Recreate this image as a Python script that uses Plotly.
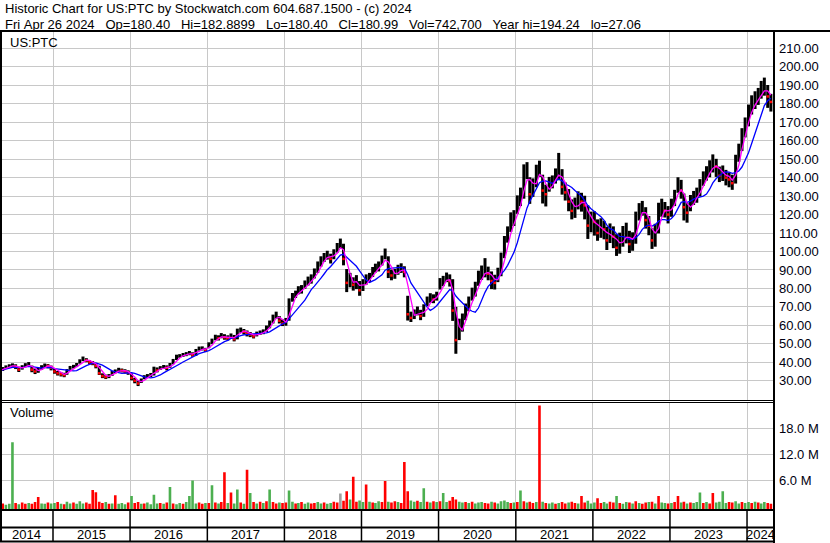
import pandas as pd
import plotly.graph_objects as go

# half-monthly readings (8th and 23rd of each month), 2014-04-23 .. 2024-04-23
close = [
    35.5, 36.5, 37.5, 38.0, 38.5, 37.5, 36.0, 37.5, 38.5, 39.0, 36.0, 35.0, 35.5, 37.5, 38.5, 38.0, 37.0,
    35.0, 34.0, 33.5, 33.0, 35.5, 37.0, 37.5, 38.5, 40.5, 42.0, 41.0, 40.0, 39.5, 38.0, 34.0, 32.5, 32.0, 32.5, 34.5, 35.0, 36.0, 35.5, 35.0, 34.5,
    31.5, 30.0, 28.5, 30.0, 32.0, 32.5, 33.0, 36.5, 35.5, 37.0, 37.5, 37.0, 38.5, 40.5, 43.0, 43.5, 44.0, 44.5, 45.0, 44.0, 46.0, 47.5, 47.5, 46.5,
    49.5, 51.5, 53.5, 53.0, 54.5, 53.5, 53.0, 54.5, 52.5, 57.0, 57.5, 56.5, 55.5, 55.0, 54.0, 55.5, 56.0, 56.5, 58.5, 61.0, 64.5, 66.0, 62.5, 61.0,
    62, 73, 75.5, 77, 79, 79.5, 82, 84, 85, 88, 92, 95, 97, 98, 96, 99, 102, 105, 96, 83, 85, 82, 84, 79,
    82, 85, 86, 89, 91, 92, 95, 99, 89, 87, 88, 90, 91, 89, 66, 64, 66, 68, 65, 68, 73, 75, 74, 76,
    83, 84, 86, 84, 68, 52, 58, 62, 68, 72, 77, 80, 86, 88, 90, 88, 84, 83, 87, 95, 103, 110, 116, 118,
    126, 130, 142, 144, 131, 136, 143, 146, 133, 131, 137, 138, 141, 145, 135, 132, 127, 122, 124, 128, 127, 125, 114, 118,
    116, 110, 113, 112, 106, 110, 108, 102, 104, 109, 110, 104, 106, 117, 122, 124, 117, 114, 106, 110, 121, 124, 122, 120,
    126, 130, 137, 133, 124, 121, 127, 129, 131, 135, 140, 142, 145, 148, 146, 141, 143, 140, 139, 137, 148, 155, 163, 170,
    176, 180, 182, 184, 188, 189, 184, 181,
]
high = [
    36.8, 37.4, 38.3, 38.9, 39.4, 38.9, 37.6, 38.4, 39.5, 40.1, 38.2, 36.6, 37.0, 38.4, 39.3, 39.0, 38.2,
    36.4, 35.3, 34.6, 34.3, 36.3, 38.0, 38.6, 39.6, 41.6, 43.1, 42.2, 41.1, 40.6, 39.5, 38.1, 34.0, 33.3, 33.6, 35.4, 36.1, 37.0, 36.6, 36.2, 35.6,
    33.8, 31.6, 30.2, 31.2, 33.0, 33.6, 34.2, 37.6, 37.2, 37.9, 38.5, 38.3, 39.6, 41.8, 44.1, 44.4, 45.0, 45.5, 46.1, 45.4, 47.2, 48.5, 48.6, 47.8,
    50.8, 52.8, 54.9, 54.6, 55.8, 55.2, 54.6, 55.6, 54.8, 58.2, 58.8, 58.0, 57.2, 56.4, 55.4, 56.6, 57.2, 57.8, 59.9, 62.6, 65.8, 67.4, 65.0, 63.2,
    64.0, 74.6, 77.5, 78.8, 81.2, 81.8, 84.3, 86.4, 87.6, 90.8, 94.6, 97.4, 99.2, 100.4, 98.8, 101.2, 104.6, 107.0, 104.2, 90.5, 88.4, 86.0, 87.2, 84.0,
    85.0, 87.6, 88.4, 91.6, 93.4, 94.6, 97.8, 101.6, 97.4, 90.2, 90.6, 92.8, 93.6, 92.0, 76.0, 67.4, 68.6, 70.2, 68.4, 71.4, 75.6, 77.4, 76.8, 78.2,
    85.6, 86.8, 88.6, 87.6, 85.0, 70.0, 63.6, 66.4, 71.8, 75.6, 80.4, 83.6, 89.6, 92.4, 96.4, 91.8, 89.2, 87.4, 91.2, 99.4, 108.4, 113.6, 121.2, 122.4,
    130.4, 134.6, 147.2, 148.4, 140.2, 139.6, 147.0, 149.2, 141.6, 136.2, 140.4, 141.2, 145.0, 153.4, 144.6, 137.4, 133.8, 128.2, 129.2, 132.6, 131.8, 130.2, 125.0, 121.6,
    121.8, 117.4, 118.0, 116.6, 113.4, 115.2, 113.6, 109.4, 110.2, 113.8, 115.6, 111.2, 110.4, 121.6, 126.2, 127.4, 124.0, 119.2, 112.6, 115.0, 126.4, 128.6, 126.8, 124.6,
    128.6, 133.4, 140.2, 138.8, 131.4, 126.4, 130.6, 132.8, 134.6, 139.2, 143.4, 146.2, 149.4, 152.6, 150.2, 146.0, 146.6, 144.2, 142.8, 141.6, 152.4, 158.4, 166.8, 172.6,
    179.6, 184.6, 186.8, 188.6, 192.4, 194.2, 190.2, 185.4,
]
low = [
    34.6, 35.3, 36.4, 37.0, 37.5, 36.3, 34.7, 36.0, 37.4, 37.8, 34.6, 33.6, 34.3, 35.9, 37.3, 36.7, 35.6,
    33.8, 32.8, 32.3, 31.9, 33.2, 35.9, 36.6, 37.4, 39.2, 40.6, 40.0, 38.8, 38.4, 36.7, 33.1, 31.4, 30.9, 31.4, 32.6, 34.0, 34.8, 34.5, 33.9, 33.2,
    30.2, 28.6, 27.1, 28.8, 30.8, 31.5, 32.0, 32.8, 34.5, 35.8, 36.4, 35.6, 37.0, 38.9, 41.2, 42.4, 42.9, 43.3, 43.8, 43.0, 43.5, 46.3, 46.4, 45.5,
    47.6, 49.8, 51.9, 51.8, 53.0, 52.2, 51.8, 52.8, 51.3, 52.4, 56.0, 55.0, 54.0, 53.6, 52.9, 54.0, 54.8, 55.2, 56.4, 58.4, 61.0, 63.6, 61.0, 59.6,
    59.8, 62.5, 72.8, 74.8, 76.8, 77.2, 79.8, 81.6, 82.6, 85.4, 88.4, 91.8, 94.3, 95.6, 93.5, 95.8, 99.4, 101.8, 92.5, 78.0, 80.6, 78.8, 79.6, 76.0,
    78.6, 82.0, 83.4, 86.2, 88.6, 89.2, 92.4, 95.8, 85.6, 84.4, 85.2, 87.4, 88.4, 86.0, 62.6, 61.8, 63.4, 65.4, 62.8, 64.6, 70.4, 72.2, 72.0, 73.4,
    79.4, 81.2, 83.4, 81.0, 62.4, 44.6, 52.0, 56.6, 62.8, 67.6, 73.4, 75.6, 81.4, 84.6, 86.0, 84.4, 79.6, 79.4, 83.4, 86.6, 96.4, 104.8, 110.6, 113.8,
    120.4, 124.6, 128.6, 139.2, 125.8, 129.6, 134.8, 140.4, 126.0, 124.4, 132.4, 134.2, 136.8, 138.6, 130.8, 127.6, 121.8, 117.4, 118.2, 122.8, 121.6, 117.4, 106.8, 110.4,
    108.6, 105.8, 107.4, 106.6, 100.8, 104.6, 101.8, 97.6, 98.8, 102.6, 104.4, 99.2, 100.4, 104.2, 116.8, 119.4, 112.4, 108.8, 101.4, 102.6, 109.8, 118.8, 118.4, 115.2,
    118.8, 124.6, 131.8, 128.6, 116.8, 115.6, 121.8, 125.2, 126.4, 129.8, 135.6, 138.4, 140.2, 142.8, 140.4, 137.6, 138.2, 135.8, 134.8, 133.4, 136.8, 148.6, 154.4, 161.8,
    167.8, 174.2, 177.2, 179.4, 182.8, 184.4, 177.8, 175.8,
]
# volume in millions, g = up, r = down, k = unchanged
volume = [
    0.4, 0.6, 0.3, 0.5, 14.8, 0.7, 0.4, 0.8, 0.5, 0.7, 0.5, 0.9, 2.1, 0.6, 0.5, 0.8, 0.6,
    0.7, 0.9, 0.5, 0.4, 1.0, 0.6, 0.8, 0.5, 1.1, 0.6, 0.8, 0.5, 3.7, 3.2, 1.0, 0.7, 0.9, 0.5, 0.6, 2.5, 0.5, 0.7, 0.4, 0.8,
    2.3, 0.7, 0.9, 0.5, 0.6, 0.8, 0.4, 2.6, 0.6, 0.7, 0.5, 0.8, 4.4, 0.6, 0.4, 0.7, 0.5, 0.9, 2.3, 5.9, 0.6, 0.8, 0.5, 0.7,
    0.7, 4.8, 0.8, 0.6, 0.9, 7.8, 0.7, 3.1, 0.6, 3.8, 0.8, 0.5, 8.4, 3.0, 0.9, 0.6, 1.0, 0.7, 1.1, 3.8, 0.9, 0.6, 0.8, 0.7,
    0.8, 3.6, 1.0, 0.6, 0.7, 0.9, 0.5, 0.8, 0.6, 0.7, 0.9, 0.6, 0.8, 0.5, 0.7, 1.0, 0.8, 2.9, 1.2, 3.4, 1.5, 6.8, 1.0, 1.3,
    0.9, 5.0, 1.0, 0.8, 0.7, 1.1, 0.9, 5.8, 1.0, 0.8, 1.1, 0.9, 0.7, 10.2, 3.4, 1.3, 1.0, 1.2, 0.9, 4.1, 1.0, 0.8, 1.1, 0.9,
    1.1, 3.0, 0.9, 1.2, 2.1, 1.5, 1.0, 0.8, 0.9, 0.7, 1.0, 0.6, 0.8, 0.9, 0.7, 0.6, 1.0, 0.8, 0.6, 1.1, 1.3, 0.9, 0.7, 0.8,
    0.9, 3.6, 1.1, 0.8, 1.0, 0.7, 0.9, 23.3, 1.0, 0.7, 0.6, 0.8, 0.5, 0.7, 0.9, 0.6, 0.8, 1.0, 0.7, 0.6, 2.3, 0.8, 1.2, 0.6,
    0.8, 1.8, 0.7, 0.9, 0.6, 1.0, 0.8, 2.3, 0.7, 0.5, 0.9, 0.8, 0.6, 1.1, 0.7, 0.5, 0.8, 0.9, 1.0, 0.6, 2.3, 0.8, 0.7, 0.6,
    0.7, 0.9, 2.3, 0.8, 1.0, 0.6, 0.8, 0.7, 0.9, 3.1, 0.7, 0.9, 0.6, 3.0, 0.8, 1.0, 3.4, 0.7, 0.9, 0.8, 1.1, 0.6, 0.9, 0.7,
    0.9, 0.7, 1.0, 0.8, 0.6, 0.9, 0.7, 0.5,
]
vol_dir = ("rrgggrgrrgrrrggrg"
           "grgrggrgggrrrrrrgrgrgggr"
           "grrgrggggrgrgrggrggggrrg"
           "rgrgrrgrggrgrgrgrgrgrrgr"
           "rggrgrggrrggrggrrkrrgrrg"
           "grgrggrrgrrgrrrggrggrgrg"
           "rggrrrggrgrgggrrgrggggrg"
           "rgrgrrgrgrggrgrrgrrgrrgg"
           "grrggrrgrggrgrgrrgrgrggr"
           "grrgrgrgggrgrrggggrrggrg"
           "grgrggrr")

price_ticks = list(range(30, 220, 10))
vol_ticks = [6, 12, 18]
years = list(range(2014, 2025))

header1 = "Historic Chart for US:PTC by Stockwatch.com 604.687.1500 - (c) 2024"
header2 = ("Fri Apr 26 2024   Op=180.40   Hi=182.8899   Lo=180.40   Cl=180.99   "
           "Vol=742,700   Year hi=194.24   lo=27.06")

dates = []
for y in years:
    for m in range(1, 13):
        for d in (8, 23):
            t = pd.Timestamp(y, m, d)
            if pd.Timestamp(2014, 4, 23) <= t <= pd.Timestamp(2024, 4, 26):
                dates.append(t)

df = pd.DataFrame({"date": dates, "close": close, "high": high, "low": low,
                   "vol": volume, "dir": list(vol_dir)})
# short and longer moving averages of the close
df["ma_short"] = df["close"].rolling(3, min_periods=1).mean()
df["ma_long"] = df["close"].rolling(8, min_periods=1).mean()

W, H = 830, 543
x_start, x_end = pd.Timestamp("2014-04-25"), pd.Timestamp("2024-05-03")


def px(x):
    return x / W


def py(y):
    return 1 - y / H


FONT = "Arial, Liberation Sans, sans-serif"

fig = go.Figure()

# price bars (high-low)
xs, ys = [], []
for d, lo, hi in zip(df["date"], df["low"], df["high"]):
    xs += [d, d, None]
    ys += [lo, hi, None]
fig.add_trace(go.Scatter(x=xs, y=ys, mode="lines", line=dict(color="black", width=3),
                         hoverinfo="skip", showlegend=False))

down = df[df["close"] < df["close"].shift(1)]
fig.add_trace(go.Scatter(x=down["date"], y=down["close"], mode="markers",
                         marker=dict(symbol="square", size=2.5, color="red", line=dict(width=0)),
                         showlegend=False))

fig.add_trace(go.Scatter(x=df["date"], y=df["ma_long"], mode="lines",
                         line=dict(color="#0000ff", width=1.3), showlegend=False))
fig.add_trace(go.Scatter(x=df["date"], y=df["ma_short"], mode="lines",
                         line=dict(color="#ff00ff", width=1.3), showlegend=False))

colors = {"g": "#4caf50", "r": "#ff0000", "k": "#a0a0a0"}
fig.add_trace(go.Bar(x=df["date"], y=[v + 0.7 for v in df["vol"]], base=-0.7,
                     marker=dict(color=[colors[c] for c in df["dir"]], line=dict(width=0)),
                     xaxis="x2", yaxis="y2", showlegend=False))

year_starts = [pd.Timestamp(y, 1, 1) for y in years[1:]]
grid = "#c8c8c8"
xcommon = dict(type="date", range=[x_start, x_end], domain=[0, px(773)],
               tickvals=year_starts, showticklabels=False, showgrid=True,
               gridcolor=grid, gridwidth=1, zeroline=False, showline=False, ticks="")

fig.update_layout(
    width=W, height=H, margin=dict(l=0, r=0, t=0, b=0), autosize=False,
    paper_bgcolor="white", plot_bgcolor="white", bargap=0.05,
    font=dict(family=FONT, size=13, color="black"),
    xaxis=dict(**xcommon, anchor="y"),
    xaxis2=dict(**xcommon, anchor="y2", matches="x"),
    yaxis=dict(domain=[py(400), py(32)], range=[19.55, 218.9], side="right",
               anchor="x", tickvals=price_ticks, ticktext=[f"{v:.2f}" for v in price_ticks],
               showgrid=True, gridcolor=grid, gridwidth=1, zeroline=False, ticks="",
               ticklabelstandoff=5, tickfont=dict(size=13, color="#000010")),
    yaxis2=dict(domain=[py(509), py(402.5)], range=[-0.7, 24.0], side="right",
                anchor="x2", tickvals=vol_ticks, ticktext=[f"{v:.1f} M" for v in vol_ticks],
                showgrid=True, gridcolor=grid, gridwidth=1, zeroline=False, ticks="",
                ticklabelstandoff=5, tickfont=dict(size=13, color="#000010")),
)

shapes = []


def hline(y, x0, x1, w=2):
    shapes.append(dict(type="line", xref="paper", yref="paper", x0=px(x0), x1=px(x1),
                       y0=py(y), y1=py(y), line=dict(color="black", width=w)))


def vline(x, y0, y1, w=2):
    shapes.append(dict(type="line", xref="paper", yref="paper", x0=px(x), x1=px(x),
                       y0=py(y0), y1=py(y1), line=dict(color="black", width=w)))


hline(31, 0, W)
hline(400.5, 0, 774, 1)
hline(402.5, 0, 774, 1)
hline(510, 0, 774)
hline(527.5, 0, 774)
hline(541.5, 0, 774)
vline(1, 31, 542)
vline(774, 30, H)
for ys_ in year_starts:
    shapes.append(dict(type="line", xref="x", yref="paper", x0=ys_, x1=ys_,
                       y0=py(541), y1=py(510), line=dict(color="black", width=1.5)))
fig.update_layout(shapes=shapes)

ann = [
    dict(text=header1, x=px(3), y=py(9)),
    dict(text=header2.replace(" ", "\u00a0"), x=px(3), y=py(24)),
    dict(text="US:PTC", x=px(8), y=py(42)),
    dict(text="Volume", x=px(8), y=py(413)),
]
annotations = [dict(a, xref="paper", yref="paper", xanchor="left", yanchor="middle",
                    showarrow=False, font=dict(family=FONT, size=13, color="black")) for a in ann]
for y in years:
    a = max(pd.Timestamp(y, 1, 1), x_start)
    b = min(pd.Timestamp(y + 1, 1, 1), x_end)
    annotations.append(dict(text=str(y), x=a + (b - a) / 2, xref="x", y=py(534.5), yref="paper",
                            xanchor="center", yanchor="middle", showarrow=False,
                            font=dict(family=FONT, size=13, color="black")))
fig.update_layout(annotations=annotations)

fig.write_html("out.html", config={"displayModeBar": False},
               post_script="document.body.style.margin='0';")
